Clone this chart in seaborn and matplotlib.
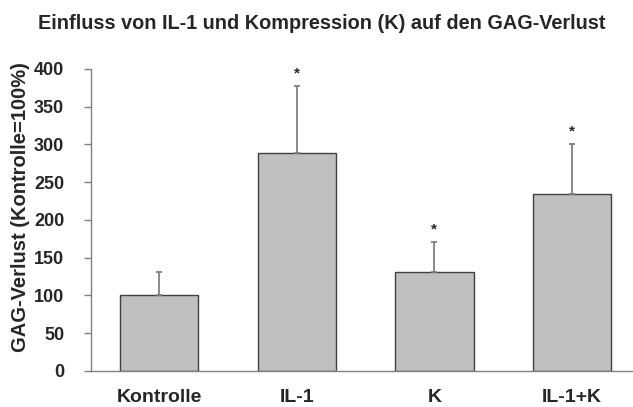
import matplotlib
matplotlib.use('Agg')
import matplotlib.pyplot as plt
import seaborn as sns
import pandas as pd

# Werte
gruppen = ['Kontrolle', 'IL-1', 'K', 'IL-1+K']
gag_verlust = [100, 289, 131, 234]
fehler = [31, 88, 40, 66]
signifikant = [False, True, True, True]

grau_balken = '#c0c0c0'
grau_linie = '#808080'

sns.set_style('white')
plt.rcParams['font.family'] = ['Liberation Sans', 'DejaVu Sans']

df = pd.DataFrame({'Gruppe': gruppen, 'GAG': gag_verlust})

fig = plt.figure(figsize=(6.33, 4.07), dpi=100)
ax = fig.add_axes([0.143, 0.0885, 0.869, 0.742])

sns.barplot(data=df, x='Gruppe', y='GAG', color=grau_balken, saturation=1,
            width=0.57, edgecolor='#404040', linewidth=1.0, ax=ax)

pos = list(range(len(gruppen)))
ax.errorbar(pos, gag_verlust, yerr=[[0] * len(fehler), fehler], fmt='none',
            ecolor=grau_linie, elinewidth=1.3, capsize=2, capthick=1.3, zorder=1)

for x, v, e, s in zip(pos, gag_verlust, fehler, signifikant):
    if s:
        ax.annotate('*', (x, v + e), xytext=(0, 4), textcoords='offset points',
                    ha='center', va='bottom', fontsize=11, fontweight='bold')

ax.set_ylim(0, 400)
ax.set_xlim(-0.5, 3.5)
ax.set_yticks(range(0, 401, 50))
ax.set_xticks([-0.5, 0.5, 1.5, 2.5], minor=True)
ax.tick_params(axis='x', which='major', length=0, pad=13)
ax.tick_params(axis='x', which='minor', length=5, color=grau_linie, width=1)
ax.tick_params(axis='y', length=5, color=grau_linie, width=1, left=True, pad=14)
for lab in ax.get_xticklabels():
    lab.set_fontsize(14)
    lab.set_fontweight('bold')
for lab in ax.get_yticklabels():
    lab.set_fontsize(13)
    lab.set_fontweight('bold')

for sp in ['top', 'right']:
    ax.spines[sp].set_visible(False)
for sp in ['left', 'bottom']:
    ax.spines[sp].set_color(grau_linie)
    ax.spines[sp].set_linewidth(1)

ax.set_xlabel('')
ax.set_ylabel('GAG-Verlust (Kontrolle=100%)', fontsize=14.5, fontweight='bold', labelpad=3)
ax.yaxis.label.set_y(0.543)
fig.suptitle('Einfluss von IL-1 und Kompression (K) auf den GAG-Verlust',
             fontsize=14.3, fontweight='bold', x=0.509, y=0.965)

fig.savefig('out.png', dpi=100)
